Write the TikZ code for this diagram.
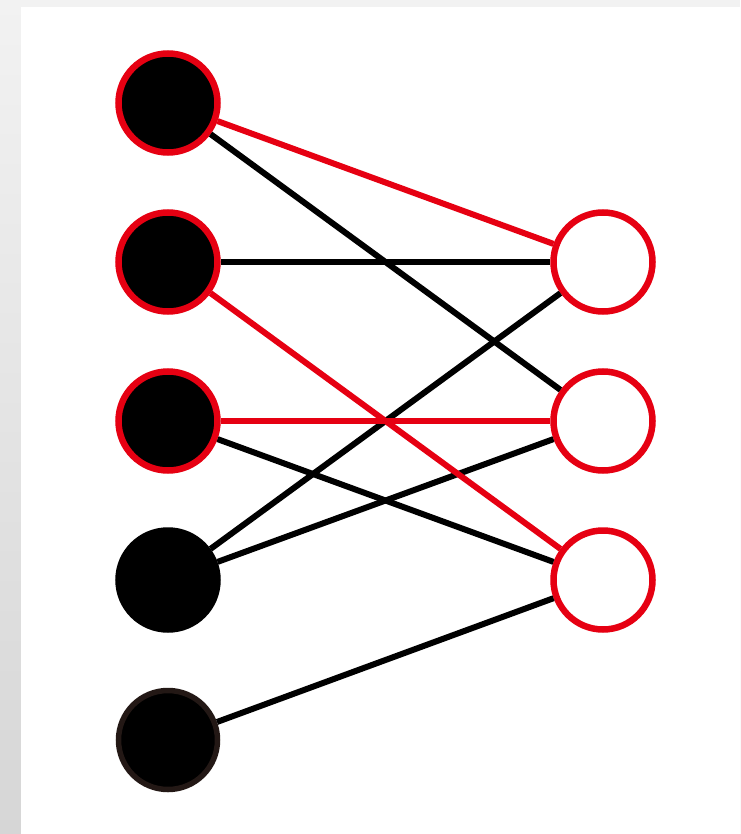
\documentclass[tikz,border=0pt]{standalone}
\definecolor{myred}{HTML}{E60012}
\definecolor{darkbrown}{HTML}{231815}
\definecolor{bgtop}{HTML}{F2F2F2}
\definecolor{bgbot}{HTML}{D6D6D6}
\tikzset{
  lnode/.style={circle, fill=black, draw=myred, line width=6.5pt, minimum size=99pt, inner sep=0pt},
  rnode/.style={circle, fill=white, draw=myred, line width=6.5pt, minimum size=99pt, inner sep=0pt},
  bedge/.style={draw=black, line width=6pt},
  redge/.style={draw=myred, line width=6pt},
}
\begin{document}
\begin{tikzpicture}[x=1pt,y=-1pt]
\useasboundingbox (0,0) rectangle (740,834);
\shade[top color=bgtop, bottom color=bgbot] (0,0) rectangle (740,834);
\fill[bgtop] (0,0) rectangle (740,7);
\fill[white] (21,7) rectangle (740,834);
\node[lnode] (l1) at (168,103) {};
\node[lnode] (l2) at (168,262) {};
\node[lnode] (l3) at (168,421) {};
\node[lnode, draw=black] (l4) at (168,580) {};
\node[lnode, draw=darkbrown, line width=5.5pt] (l5) at (168,740) {};
\node[rnode] (r1) at (603,262) {};
\node[rnode] (r2) at (603,421) {};
\node[rnode] (r3) at (603,580) {};
\draw[bedge] (l1) -- (r2);
\draw[bedge] (l2) -- (r1);
\draw[bedge] (l3) -- (r3);
\draw[bedge] (l4) -- (r1);
\draw[bedge] (l4) -- (r2);
\draw[bedge] (l5) -- (r3);
\draw[redge] (l1) -- (r1);
\draw[redge] (l2) -- (r3);
\draw[redge] (l3) -- (r2);
\end{tikzpicture}
\end{document}
